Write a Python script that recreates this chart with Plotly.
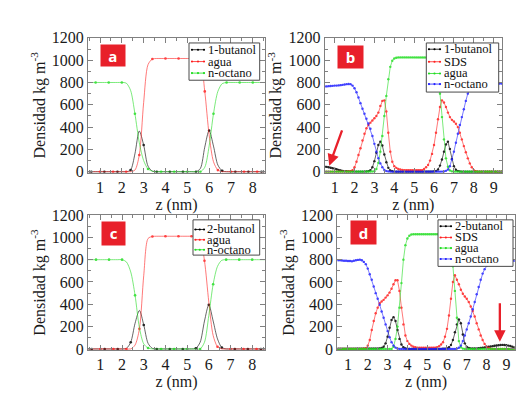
import plotly.graph_objects as go

W, H = 530, 405
SERIF = "Liberation Serif"

# ---------------- data ----------------
Z_AC = [0.4, 0.6, 0.8, 1.0, 1.2, 1.4, 1.6, 1.8, 2.0, 2.2, 2.4, 2.6, 2.8, 3.0, 3.2, 3.4,
        3.6, 3.8, 4.0, 4.2, 4.4, 4.6, 4.8, 5.0, 5.2, 5.4, 5.6, 5.8, 6.0, 6.2, 6.4, 6.6,
        6.8, 7.0, 7.2, 7.4, 7.6, 7.8, 8.0, 8.2, 8.4, 8.6]

A_BUTANOL = [0, 0, 0, 0, 0, 0, 0, 0, 0, 0, 15, 160, 365, 240, 50, 5,
             0, 0, 0, 0, 0, 0, 0, 0, 0, 0, 30, 220, 370, 230, 60, 8,
             0, 0, 0, 0, 0, 0, 0, 0, 0, 0]
A_AGUA = [0, 0, 0, 0, 0, 0, 0, 0, 0, 0, 0, 15, 150, 620, 960, 1010,
          1015, 1015, 1015, 1015, 1015, 1015, 1015, 1015, 1015, 1015, 990, 720, 330, 90, 15, 0,
          0, 0, 0, 0, 0, 0, 0, 0, 0, 0]
A_OCTANO = [800, 800, 800, 800, 800, 800, 800, 800, 800, 795, 730, 520, 260, 100, 25, 5,
            0, 0, 0, 0, 0, 0, 0, 0, 0, 0, 0, 40, 230, 520, 720, 790,
            800, 800, 800, 800, 800, 800, 800, 800, 800, 800]

C_BUTANOL = [0, 0, 0, 0, 0, 0, 0, 0, 0, 5, 60, 230, 345, 215, 50, 5,
             0, 0, 0, 0, 0, 0, 0, 0, 0, 5, 60, 250, 395, 250, 90, 12,
             0, 0, 0, 0, 0, 0, 0, 0, 0, 0]
C_AGUA = [0, 0, 0, 0, 0, 0, 0, 0, 0, 0, 0, 35, 180, 660, 990, 1008,
          1010, 1010, 1010, 1010, 1010, 1010, 1010, 1010, 1010, 1010, 990, 790, 420, 120, 20, 0,
          0, 0, 0, 0, 0, 0, 0, 0, 0, 0]
C_OCTANO = [800, 800, 800, 800, 800, 800, 800, 800, 800, 780, 690, 480, 190, 45, 8, 0,
            0, 0, 0, 0, 0, 0, 0, 0, 0, 0, 0, 60, 300, 580, 740, 795,
            800, 800, 800, 800, 800, 800, 800, 800, 800, 800]

Z_BD = [0.5, 0.6, 0.7, 0.8, 0.9,
        1.0, 1.1, 1.2, 1.3, 1.4, 1.5, 1.6, 1.7, 1.8, 1.9,
        2.0, 2.1, 2.2, 2.3, 2.4, 2.5, 2.6, 2.7, 2.8, 2.9,
        3.0, 3.1, 3.2, 3.3, 3.4, 3.5, 3.6, 3.7, 3.8, 3.9,
        4.0, 4.1, 4.2, 4.3, 4.4, 4.5, 4.6, 4.7, 4.8, 4.9,
        5.0, 5.1, 5.2, 5.3, 5.4, 5.5, 5.6, 5.7, 5.8, 5.9,
        6.0, 6.1, 6.2, 6.3, 6.4, 6.5, 6.6, 6.7, 6.8, 6.9,
        7.0, 7.1, 7.2, 7.3, 7.4, 7.5, 7.6, 7.7, 7.8, 7.9,
        8.0, 8.1, 8.2, 8.3, 8.4, 8.5, 8.6, 8.7, 8.8, 8.9,
        9.0, 9.1, 9.2, 9.3, 9.4]

B_BUTANOL = [45, 44, 40, 36, 32,
             27, 22, 16, 11, 8, 6, 4, 3, 2, 2,
             1, 1, 1, 1, 1, 1, 2, 4, 15, 40,
             95, 170, 240, 270, 235, 155, 85, 35, 12, 4,
             1, 0, 0, 0, 0, 0, 0, 0, 0, 0,
             0, 0, 0, 0, 0, 0, 0, 0, 0, 1,
             2, 6, 20, 55, 110, 180, 245, 270, 205, 115,
             50, 18, 6, 2, 1, 0, 0, 0, 0, 0,
             0, 0, 0, 0, 0, 0, 0, 0, 0, 0,
             0, 0, 0, 0, 0]
B_SDS = [0, 0, 0, 0, 0,
         0, 0, 0, 0, 0, 0, 0, 2, 5, 15,
         40, 90, 150, 210, 280, 340, 390, 420, 440, 460,
         480, 500, 530, 590, 635, 640, 540, 350, 180, 90,
         50, 35, 25, 20, 17, 15, 15, 15, 15, 15,
         15, 15, 15, 15, 15, 25, 40, 60, 100, 160,
         240, 350, 470, 580, 640, 620, 580, 530, 490, 465,
         450, 430, 400, 350, 290, 230, 175, 120, 75, 40,
         15, 5, 0, 0, 0, 0, 0, 0, 0, 0,
         0, 0, 0, 0, 0]
B_AGUA = [0, 0, 0, 0, 0,
          0, 0, 0, 0, 0, 0, 0, 0, 0, 0,
          0, 0, 0, 0, 0, 0, 0, 0, 0, 1,
          5, 25, 80, 180, 320, 500, 680, 830, 940, 995,
          1015, 1022, 1025, 1025, 1025, 1025, 1025, 1025, 1025, 1025,
          1025, 1025, 1025, 1025, 1025, 1025, 1025, 1025, 1025, 1025,
          1020, 1000, 880, 700, 490, 290, 120, 45, 12, 3,
          0, 0, 0, 0, 0, 0, 0, 0, 0, 0,
          0, 0, 0, 0, 0, 0, 0, 0, 0, 0,
          0, 0, 0, 0, 0]
B_OCTANO = [765, 765, 767, 769, 770,
            772, 772, 774, 776, 779, 782, 785, 787, 785, 772,
            748, 712, 665, 615, 565, 520, 475, 432, 385, 320,
            250, 180, 122, 75, 40, 16, 6, 2, 0, 0,
            0, 0, 0, 0, 0, 0, 0, 0, 0, 0,
            0, 0, 0, 0, 0, 0, 0, 0, 0, 0,
            0, 0, 0, 0, 1, 3, 8, 20, 50, 110,
            180, 260, 340, 420, 490, 560, 635, 700, 740, 765,
            775, 780, 782, 785, 786, 787, 788, 789, 790, 790,
            790, 790, 790, 790, 790]

D_BUTANOL = [3, 3, 3, 3, 3,
             3, 3, 3, 3, 3, 3, 3, 3, 3, 3,
             3, 3, 3, 3, 3, 3, 5, 8, 20, 50,
             110, 190, 260, 285, 250, 170, 90, 40, 15, 5,
             1, 0, 0, 0, 0, 0, 0, 0, 0, 0,
             0, 0, 0, 0, 0, 0, 0, 0, 1, 2,
             5, 15, 35, 80, 150, 220, 265, 230, 130, 50,
             18, 8, 5, 4, 4, 5, 6, 8, 10, 13,
             16, 19, 22, 25, 28, 31, 33, 35, 36, 35,
             33, 30, 26, 20, 14]
D_SDS = [0, 0, 0, 0, 0,
         0, 0, 0, 0, 0, 0, 0, 0, 2, 5,
         30, 80, 170, 250, 320, 370, 410, 425, 440, 460,
         480, 505, 540, 580, 615, 615, 520, 370, 220, 120,
         70, 45, 30, 20, 15, 12, 10, 10, 10, 10,
         10, 10, 10, 10, 12, 15, 25, 40, 60, 110,
         180, 300, 450, 600, 660, 620, 580, 530, 495, 470,
         450, 420, 380, 340, 290, 230, 175, 120, 80, 45,
         20, 8, 2, 0, 0, 0, 0, 0, 0, 0,
         0, 0, 0, 0, 0]
D_AGUA = [0, 0, 0, 0, 0,
          0, 0, 0, 0, 0, 0, 0, 0, 0, 0,
          0, 0, 0, 0, 0, 0, 0, 0, 0, 0,
          0, 0, 0, 20, 90, 200, 370, 590, 800, 930,
          990, 1015, 1025, 1028, 1028, 1028, 1028, 1028, 1028, 1028,
          1028, 1028, 1028, 1028, 1028, 1028, 1028, 1028, 1028, 1028,
          1020, 980, 880, 740, 520, 280, 70, 15, 3, 0,
          0, 0, 0, 0, 0, 0, 0, 0, 0, 0,
          0, 0, 0, 0, 0, 0, 0, 0, 0, 0,
          0, 0, 0, 0, 0]
D_OCTANO = [795, 795, 793, 790, 790,
            788, 788, 785, 790, 795, 798, 800, 795, 780, 760,
            720, 670, 620, 560, 500, 450, 395, 335, 280, 220,
            160, 105, 60, 30, 12, 4, 0, 0, 0, 0,
            0, 0, 0, 0, 0, 0, 0, 0, 0, 0,
            0, 0, 0, 0, 0, 0, 0, 0, 0, 0,
            0, 0, 0, 0, 0, 3, 10, 30, 70, 120,
            175, 230, 290, 355, 420, 490, 555, 620, 675, 715,
            745, 765, 775, 780, 785, 787, 788, 789, 790, 790,
            790, 790, 790, 790, 790]

Y_TICKS = [0, 200, 400, 600, 800, 1000, 1200]
Y_TITLE = "Densidad kg m<sup>-3</sup>"
X_TITLE = "z (nm)"

C_BLACK = "#000000"
C_RED = "#ff2020"
C_GREEN = "#22dd22"
C_BLUE = "#2020ff"
C_MARK = "#e8202a"

# ---------------- figure ----------------
fig = go.Figure()

def add(z, v, color, name, ax, sparse):
    xa = "x" if ax == 1 else "x%d" % ax
    ya = "y" if ax == 1 else "y%d" % ax
    fig.add_trace(go.Scatter(
        x=z, y=v, name=name, xaxis=xa, yaxis=ya, mode="lines+markers",
        line=dict(color=color, width=0.7, shape="spline" if sparse else "linear", smoothing=0.8),
        marker=dict(color=color, size=2.6 if sparse else 2.4, maxdisplayed=16 if sparse else 0),
        opacity=0.85, showlegend=False))

add(Z_AC, A_BUTANOL, C_BLACK, "1-butanol", 1, True)
add(Z_AC, A_AGUA, C_RED, "agua", 1, True)
add(Z_AC, A_OCTANO, C_GREEN, "n-octano", 1, True)

add(Z_BD, B_BUTANOL, C_BLACK, "1-butanol", 2, False)
add(Z_BD, B_SDS, C_RED, "SDS", 2, False)
add(Z_BD, B_AGUA, C_GREEN, "agua", 2, False)
add(Z_BD, B_OCTANO, C_BLUE, "n-octano", 2, False)

add(Z_AC, C_BUTANOL, C_BLACK, "2-butanol", 3, True)
add(Z_AC, C_AGUA, C_RED, "agua", 3, True)
add(Z_AC, C_OCTANO, C_GREEN, "n-octano", 3, True)

add(Z_BD, D_BUTANOL, C_BLACK, "2-butanol", 4, False)
add(Z_BD, D_SDS, C_RED, "SDS", 4, False)
add(Z_BD, D_AGUA, C_GREEN, "agua", 4, False)
add(Z_BD, D_OCTANO, C_BLUE, "n-octano", 4, False)

def px(x):
    return x / W

def py(y):
    return 1 - y / H

FRAME = "#808080"
TICKFONT = dict(family=SERIF, size=16, color="#1a1a1a")
TITLEFONT = dict(family=SERIF, size=16, color="#1a1a1a")

def xax(dom, rng, anchor):
    return dict(domain=[px(dom[0]), px(dom[1])], range=rng, anchor=anchor,
                dtick=1, tick0=0, ticks="inside", ticklen=5, tickcolor=FRAME,
                showline=True, linecolor=FRAME, linewidth=1, mirror="ticks",
                showgrid=False, zeroline=False, tickfont=TICKFONT,
                minor=dict(dtick=0.5, ticks="inside", ticklen=3, tickcolor=FRAME, showgrid=False),
                title=dict(text=X_TITLE, font=TITLEFONT, standoff=0))

def yax(dom, anchor):
    return dict(domain=[py(dom[1]), py(dom[0])], range=[-10, 1200], anchor=anchor,
                tickvals=Y_TICKS, ticks="inside", ticklen=5, tickcolor=FRAME,
                showline=True, linecolor=FRAME, linewidth=1, mirror="ticks",
                showgrid=False, zeroline=False, tickfont=TICKFONT,
                minor=dict(dtick=100, ticks="inside", ticklen=3, tickcolor=FRAME, showgrid=False),
                title=dict(text=Y_TITLE, font=TITLEFONT, standoff=2))

TOP_Y = (22.7, 162.9)
BOT_Y = (206.7, 346.9)

fig.update_layout(
    width=W, height=H, margin=dict(l=0, r=0, t=0, b=0),
    paper_bgcolor="white", plot_bgcolor="white", showlegend=False,
    font=dict(family=SERIF),
    xaxis=xax((80, 257), [0.45, 8.56], "y"),
    yaxis=yax(TOP_Y, "x"),
    xaxis2=xax((316.7, 494), [0.5, 9.42], "y2"),
    yaxis2=yax(TOP_Y, "x2"),
    xaxis3=xax((80, 257), [0.43, 8.59], "y3"),
    yaxis3=yax(BOT_Y, "x3"),
    xaxis4=xax((329.3, 506.7), [0.46, 9.42], "y4"),
    yaxis4=yax(BOT_Y, "x4"),
)

shapes = []
annotations = []

def legend(box, entries, sx0, sx1, tx):
    x0, x1, y0, y1 = box
    shapes.append(dict(type="rect", xref="paper", yref="paper", layer="above",
                       x0=px(x0), x1=px(x1), y0=py(y1), y1=py(y0),
                       fillcolor="white", line=dict(color="#4a4a4a", width=1)))
    for yy, color, label in entries:
        shapes.append(dict(type="line", xref="paper", yref="paper", layer="above",
                           x0=px(sx0), x1=px(sx1), y0=py(yy), y1=py(yy),
                           line=dict(color=color, width=0.8)))
        cx = (sx0 + sx1) / 2
        for dx in (sx0 + 1, cx, sx1 - 1):
            shapes.append(dict(type="circle", xref="paper", yref="paper", layer="above",
                               x0=px(dx - 1.1), x1=px(dx + 1.1), y0=py(yy + 1.1), y1=py(yy - 1.1),
                               fillcolor=color, line=dict(width=0)))
        annotations.append(dict(text=label, xref="paper", yref="paper", x=px(tx), y=py(yy),
                                xanchor="left", yanchor="middle", showarrow=False, borderpad=0,
                                font=dict(family=SERIF, size=12.5, color="#111111")))

legend((181, 251.7, 28, 66.7),
       [(35, C_BLACK, "1-butanol"), (47.3, C_RED, "agua"), (59.3, C_GREEN, "n-octano")],
       183, 197, 199)
legend((418.3, 490.7, 28, 79),
       [(34.5, C_BLACK, "1-butanol"), (47.5, C_RED, "SDS"), (59.7, C_GREEN, "agua"),
        (70.7, C_BLUE, "n-octano")],
       420, 433, 434.5)
legend((185, 251.7, 211.7, 248.3),
       [(221.7, C_BLACK, "2-butanol"), (232.3, C_RED, "agua"), (242.7, C_GREEN, "n-octano")],
       186.5, 197, 198)
legend((430, 505, 211.7, 260),
       [(218.3, C_BLACK, "2-butanol"), (230, C_RED, "SDS"), (241, C_GREEN, "agua"),
        (252.3, C_BLUE, "n-octano")],
       431.7, 444, 446)

def tag(letter, x0, x1, y0, y1):
    annotations.append(dict(text="<b>%s</b>" % letter, xref="paper", yref="paper",
                            x=px((x0 + x1) / 2), y=py((y0 + y1) / 2),
                            xanchor="center", yanchor="middle", showarrow=False,
                            width=x1 - x0, height=y1 - y0, bgcolor=C_MARK, borderpad=0,
                            font=dict(family="Open Sans", size=15, color="white")))

tag("a", 93, 116.7, 31, 52)
tag("b", 330.3, 355.3, 31.3, 53)
tag("c", 93.3, 116.7, 214, 236.7)
tag("d", 343.3, 368.3, 213.3, 236.7)

annotations.append(dict(text="", x=0.73, y=54, ax=1.40, ay=384, xref="x2", yref="y2",
                        axref="x2", ayref="y2", showarrow=True, arrowhead=2, arrowsize=1,
                        arrowwidth=2.3, arrowcolor=C_MARK))
annotations.append(dict(text="", x=8.67, y=64, ax=8.67, ay=423, xref="x4", yref="y4",
                        axref="x4", ayref="y4", showarrow=True, arrowhead=2, arrowsize=1,
                        arrowwidth=2.3, arrowcolor=C_MARK))

fig.update_layout(shapes=shapes, annotations=annotations)
fig.write_html("out.html")
